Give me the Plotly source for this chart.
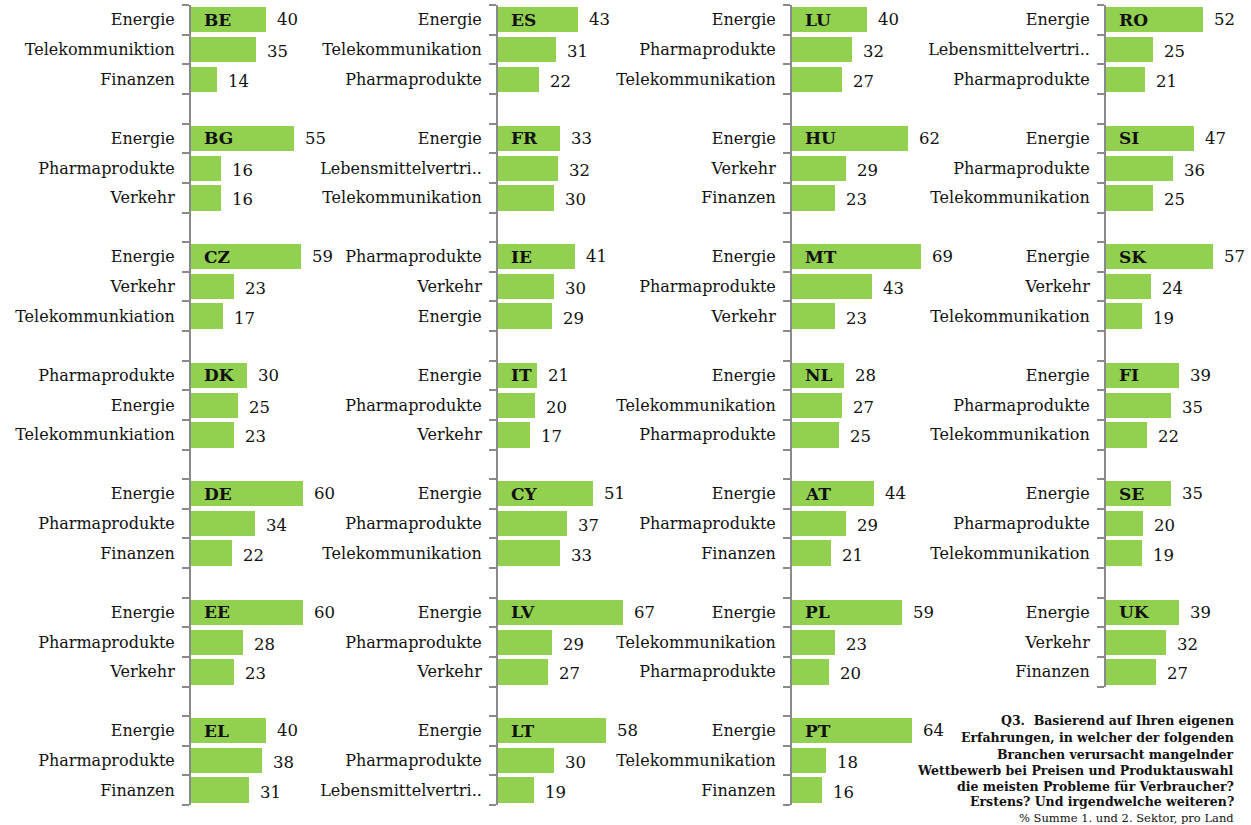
import plotly.graph_objects as go

# ---------------- data ----------------
countries = ["BE", "BG", "CZ", "DK", "DE", "EE", "EL",
             "ES", "FR", "IE", "IT", "CY", "LV", "LT",
             "LU", "HU", "MT", "NL", "AT", "PL", "PT",
             "RO", "SI", "SK", "FI", "SE", "UK"]

sectors = [
    ["Energie", "Telekommuniktion", "Finanzen"],
    ["Energie", "Pharmaprodukte", "Verkehr"],
    ["Energie", "Verkehr", "Telekommunkiation"],
    ["Pharmaprodukte", "Energie", "Telekommunkiation"],
    ["Energie", "Pharmaprodukte", "Finanzen"],
    ["Energie", "Pharmaprodukte", "Verkehr"],
    ["Energie", "Pharmaprodukte", "Finanzen"],
    ["Energie", "Telekommunikation", "Pharmaprodukte"],
    ["Energie", "Lebensmittelvertri..", "Telekommunikation"],
    ["Pharmaprodukte", "Verkehr", "Energie"],
    ["Energie", "Pharmaprodukte", "Verkehr"],
    ["Energie", "Pharmaprodukte", "Telekommunikation"],
    ["Energie", "Pharmaprodukte", "Verkehr"],
    ["Energie", "Pharmaprodukte", "Lebensmittelvertri.."],
    ["Energie", "Pharmaprodukte", "Telekommunikation"],
    ["Energie", "Verkehr", "Finanzen"],
    ["Energie", "Pharmaprodukte", "Verkehr"],
    ["Energie", "Telekommunikation", "Pharmaprodukte"],
    ["Energie", "Pharmaprodukte", "Finanzen"],
    ["Energie", "Telekommunikation", "Pharmaprodukte"],
    ["Energie", "Telekommunikation", "Finanzen"],
    ["Energie", "Lebensmittelvertri..", "Pharmaprodukte"],
    ["Energie", "Pharmaprodukte", "Telekommunikation"],
    ["Energie", "Verkehr", "Telekommunikation"],
    ["Energie", "Pharmaprodukte", "Telekommunikation"],
    ["Energie", "Pharmaprodukte", "Telekommunikation"],
    ["Energie", "Verkehr", "Finanzen"],
]

values = [
    [40, 35, 14], [55, 16, 16], [59, 23, 17], [30, 25, 23], [60, 34, 22], [60, 28, 23], [40, 38, 31],
    [43, 31, 22], [33, 32, 30], [41, 30, 29], [21, 20, 17], [51, 37, 33], [67, 29, 27], [58, 30, 19],
    [40, 32, 27], [62, 29, 23], [69, 43, 23], [28, 27, 25], [44, 29, 21], [59, 23, 20], [64, 18, 16],
    [52, 25, 21], [47, 36, 25], [57, 24, 19], [39, 35, 22], [35, 20, 19], [39, 32, 27],
]

panels_per_column = [7, 7, 7, 6]

note_lines = [
    "Q3.&nbsp; Basierend auf Ihren eigenen",
    "Erfahrungen, in welcher der folgenden",
    "Branchen verursacht mangelnder",
    "Wettbewerb bei Preisen und Produktauswahl",
    "die meisten Probleme für Verbraucher?",
    "Erstens? Und irgendwelche weiteren?",
]
note_sub = "% Summe 1. und 2. Sektor, pro Land"

# ---------------- layout constants ----------------
W, H = 1251, 825
COL_X = [191, 498, 792, 1106]
T0 = 5.0
PITCH = 118.5
PANEL_H = 89.0
BAND = PANEL_H / 3
GAP = PITCH - PANEL_H
PX_PER_UNIT = 1.87
XW = 140

GREEN = "#92D050"
AXIS_GRAY = "#8a8a8a"
TXT = "#111111"
FONT = "DejaVu Serif"

fig = go.Figure()
layout = {}
annotations = []

idx = 0
for c, n in enumerate(panels_per_column):
    for r in range(n):
        i = idx
        idx += 1
        k = i + 1
        xa = "x" if k == 1 else f"x{k}"
        ya = "y" if k == 1 else f"y{k}"
        xkey = "xaxis" if k == 1 else f"xaxis{k}"
        ykey = "yaxis" if k == 1 else f"yaxis{k}"

        top = T0 + PITCH * r
        bot = top + PANEL_H
        ext_top = GAP / 2 if r > 0 else 0
        ext_bot = GAP / 2 if r < n - 1 else 0
        dtop = top - ext_top
        dbot = bot + ext_bot

        ypos = [0.5, 1.5, 2.5]
        fig.add_trace(go.Bar(
            x=values[i], y=ypos, orientation="h", width=0.85,
            marker=dict(color=GREEN, line=dict(width=0)),
            xaxis=xa, yaxis=ya, hoverinfo="skip", showlegend=False,
        ))

        layout[xkey] = dict(
            domain=[COL_X[c] / W, (COL_X[c] + XW) / W],
            anchor=ya, range=[0, XW / PX_PER_UNIT], visible=False,
            fixedrange=True,
        )
        layout[ykey] = dict(
            domain=[1 - dbot / H, 1 - dtop / H],
            anchor=xa,
            range=[3 + ext_bot / BAND, -ext_top / BAND],
            tickmode="array", tickvals=ypos, ticktext=sectors[i],
            ticks="outside", ticklen=7, tickcolor="rgba(0,0,0,0)",
            ticklabelstandoff=4,
            tickfont=dict(family=FONT, size=16, color=TXT),
            showline=True, linecolor=AXIS_GRAY, linewidth=2,
            showgrid=False, zeroline=False, fixedrange=True,
            minor=dict(tickmode="array", tickvals=[0, 1, 2, 3],
                       ticks="outside", ticklen=7, tickwidth=1.5,
                       tickcolor=AXIS_GRAY, showgrid=False),
        )

        for j, v in enumerate(values[i]):
            annotations.append(dict(
                x=v, y=ypos[j], xref=xa, yref=ya, text=str(v),
                xanchor="left", yanchor="middle", xshift=9,
                yshift=(0 if j == 0 else -2),
                showarrow=False,
                font=dict(family=FONT, size=16.5, color=TXT),
            ))
        annotations.append(dict(
            x=0, y=ypos[0], xref=xa, yref=ya, text=f"<b>{countries[i]}</b>",
            xanchor="left", yanchor="middle", xshift=11, showarrow=False,
            font=dict(family=FONT, size=17, color=TXT),
        ))

# note text
note_y = [720.5, 737, 754, 770, 786, 801.5]
for line, yy in zip(note_lines, note_y):
    annotations.append(dict(
        x=1236 / W, y=1 - yy / H, xref="paper", yref="paper",
        text=f"<b>{line}</b>", xanchor="right", yanchor="middle",
        showarrow=False, font=dict(family=FONT, size=12.5, color=TXT),
    ))
annotations.append(dict(
    x=1236 / W, y=1 - 818 / H, xref="paper", yref="paper",
    text=note_sub, xanchor="right", yanchor="middle",
    showarrow=False, font=dict(family=FONT, size=11.5, color=TXT),
))

fig.update_layout(
    width=W, height=H,
    margin=dict(l=0, r=0, t=0, b=0),
    paper_bgcolor="white", plot_bgcolor="white",
    showlegend=False, bargap=0,
    annotations=annotations,
    **layout,
)

fig.write_html("out.html", config={"displayModeBar": False})
